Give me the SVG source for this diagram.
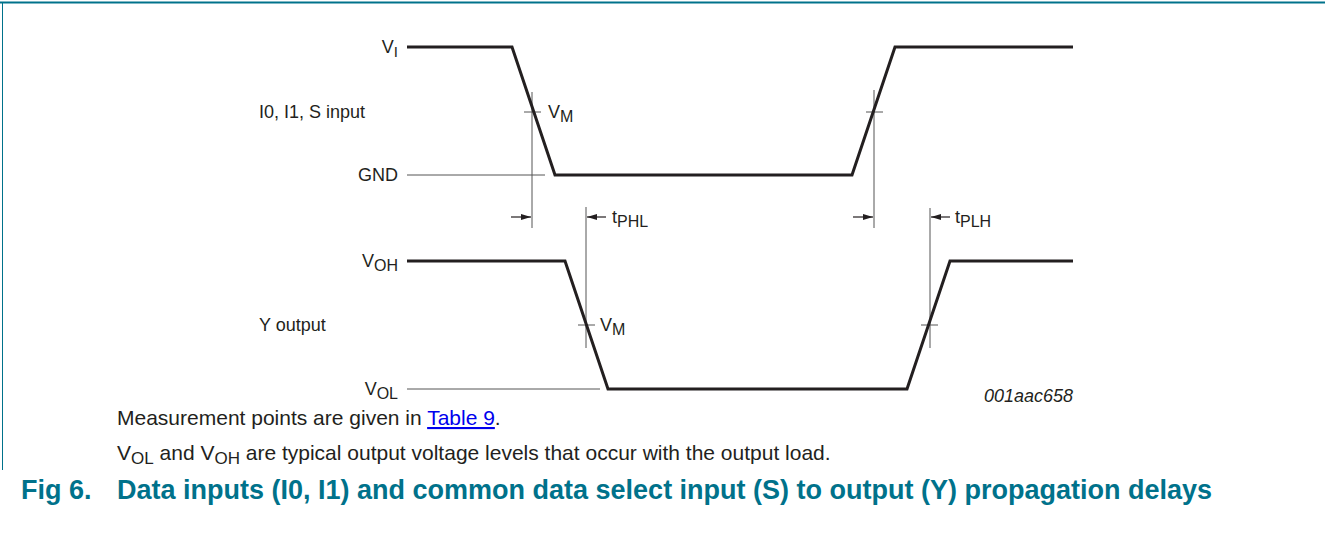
<svg xmlns="http://www.w3.org/2000/svg" width="1325" height="547" viewBox="0 0 1325 547">
<style>
.sig{fill:none;stroke:#231f20;stroke-width:3;stroke-linejoin:miter}
.thin{fill:none;stroke:#555;stroke-width:1}
.arr{fill:none;stroke:#231f20;stroke-width:1.2}
.lbl{font-family:"Liberation Sans",Arial,sans-serif;font-size:18px;fill:#231f20}
.note{font-family:"Liberation Sans",Arial,sans-serif;font-size:21px;fill:#231f20}
.cap{font-family:"Liberation Sans",Arial,sans-serif;font-size:27px;font-weight:bold;fill:#00728b}
</style>
<defs>
<marker id="ah" viewBox="0 0 10 6" refX="10" refY="3" markerWidth="10" markerHeight="6" markerUnits="userSpaceOnUse" orient="auto">
<path d="M0,0 L10,3 L0,6 Z" fill="#231f20"/>
</marker>
</defs>
<g id="frame">
<line x1="0" y1="2.5" x2="1325" y2="2.5" stroke="#00728b" stroke-width="2"/>
<line x1="2.5" y1="2" x2="2.5" y2="470" stroke="#00728b" stroke-width="1"/>
</g>
<g id="connectors">
<line class="thin" x1="407" y1="175" x2="545" y2="175"/>
<line class="thin" x1="407" y1="389" x2="600" y2="389"/>
<line class="thin" x1="532" y1="92" x2="532" y2="228"/>
<line class="thin" x1="524" y1="112" x2="541" y2="112"/>
<line class="thin" x1="874" y1="90" x2="874" y2="228"/>
<line class="thin" x1="866" y1="112" x2="883" y2="112"/>
<line class="thin" x1="586" y1="207" x2="586" y2="348"/>
<line class="thin" x1="578" y1="325" x2="595" y2="325"/>
<line class="thin" x1="930" y1="208" x2="930" y2="348"/>
<line class="thin" x1="921" y1="325" x2="938" y2="325"/>
<line class="arr" x1="511" y1="217" x2="531" y2="217" marker-end="url(#ah)"/>
<line class="arr" x1="606" y1="217" x2="587" y2="217" marker-end="url(#ah)"/>
<line class="arr" x1="853" y1="217" x2="873" y2="217" marker-end="url(#ah)"/>
<line class="arr" x1="950" y1="217" x2="931" y2="217" marker-end="url(#ah)"/>
</g>
<g id="input-signal">
<polyline class="sig" points="407,47 512,47 555,175 852,175 895,47 1073,47"/>
</g>
<g id="output-signal">
<polyline class="sig" points="407,261 565,261 608,389 907,389 950,261 1073,261"/>
</g>
<g id="labels">
<text class="lbl" x="398" y="53" text-anchor="end">V<tspan dy="4" font-size="15">I</tspan></text>
<text class="lbl" x="259" y="118">I0, I1, S input</text>
<text class="lbl" x="398" y="181" text-anchor="end">GND</text>
<text class="lbl" x="548" y="118">V<tspan dy="4" font-size="16">M</tspan></text>
<text class="lbl" x="612" y="223">t<tspan dy="4" font-size="16">PHL</tspan></text>
<text class="lbl" x="955" y="223">t<tspan dy="4" font-size="16">PLH</tspan></text>
<text class="lbl" x="398" y="267" text-anchor="end">V<tspan dy="4" font-size="16">OH</tspan></text>
<text class="lbl" x="259" y="331">Y output</text>
<text class="lbl" x="600" y="331">V<tspan dy="4" font-size="16">M</tspan></text>
<text class="lbl" x="398" y="395" text-anchor="end">V<tspan dy="4" font-size="16">OL</tspan></text>
<text class="lbl" x="1073" y="402" text-anchor="end" font-style="italic" font-size="16">001aac658</text>
</g>
<g id="notes">
<text class="note" x="117" y="425">Measurement points are given in <tspan fill="#0000ee" text-decoration="underline">Table 9</tspan>.</text>
<text class="note" x="117" y="460">V<tspan dy="4" font-size="17">OL</tspan><tspan dy="-4"> and V</tspan><tspan dy="4" font-size="17">OH</tspan><tspan dy="-4"> are typical output voltage levels that occur with the output load.</tspan></text>
<text class="cap" x="21" y="499">Fig 6.</text>
<text class="cap" x="117" y="499">Data inputs (I0, I1) and common data select input (S) to output (Y) propagation delays</text>
</g>
</svg>
